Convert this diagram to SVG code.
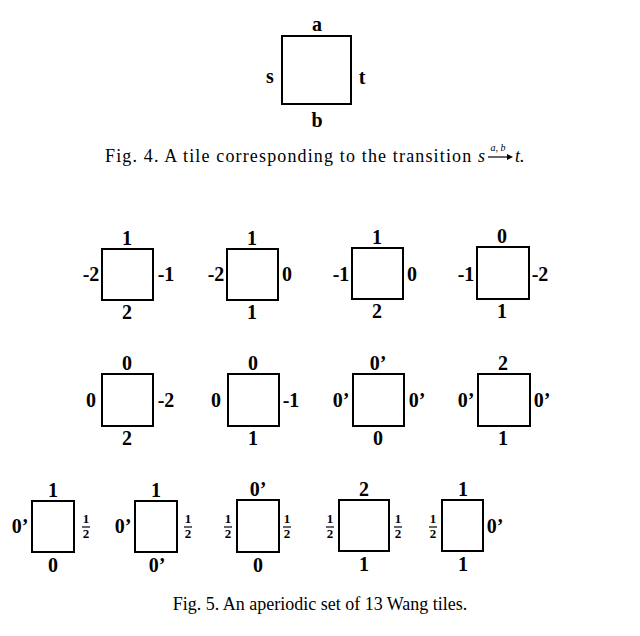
<svg xmlns="http://www.w3.org/2000/svg" width="640" height="636" viewBox="0 0 640 636">
<style>
rect{fill:none;stroke:#000;stroke-width:2}
text{font-family:"Liberation Serif",serif;font-size:20px;fill:#000;text-anchor:middle}
.b{font-weight:bold;font-size:20px}
.f{font-size:13px;font-weight:bold}
.c{font-size:18px;text-anchor:start}
line{stroke:#000;stroke-width:1.2}
</style>
<rect fill="#fff" width="640" height="636" style="stroke:none;fill:#fff"/>
<g id="fig4tile">
<rect x="282" y="36" width="69" height="68"/>
<text class="b" x="317" y="31">a</text>
<text class="b" x="270" y="83">s</text>
<text class="b" x="362" y="84">t</text>
<text class="b" x="317" y="127">b</text>
</g>
<text class="c" x="105" y="162" textLength="380" lengthAdjust="spacing">Fig. 4.  A tile corresponding to the transition <tspan font-style="italic">s</tspan></text>
<g id="arrow"><line x1="488" y1="157" x2="508" y2="157"/><path d="M507,154 L513,157 L507,160 Z"/><text x="498" y="151" style="font-size:10px;font-style:italic">a, b</text><text class="c" x="515" y="162" style="font-style:italic">t.</text></g>
<g id="r1t1"><rect x="102" y="249" width="51" height="51"/><text class="b" x="127" y="245">1</text><text class="b" x="91" y="281">-2</text><text class="b" x="166" y="281">-1</text><text class="b" x="127" y="319">2</text></g>
<g id="r1t2"><rect x="227" y="249" width="51" height="51"/><text class="b" x="252" y="245">1</text><text class="b" x="216" y="281">-2</text><text class="b" x="287" y="281">0</text><text class="b" x="252" y="319">1</text></g>
<g id="r1t3"><rect x="352" y="248" width="51" height="51"/><text class="b" x="377" y="244">1</text><text class="b" x="341" y="281">-1</text><text class="b" x="412" y="281">0</text><text class="b" x="377" y="318">2</text></g>
<g id="r1t4"><rect x="477" y="247" width="52" height="52"/><text class="b" x="502" y="243">0</text><text class="b" x="466" y="281">-1</text><text class="b" x="540" y="281">-2</text><text class="b" x="502" y="318">1</text></g>
<g id="r2t1"><rect x="102" y="374" width="51" height="52"/><text class="b" x="127" y="370">0</text><text class="b" x="91" y="407">0</text><text class="b" x="166" y="407">-2</text><text class="b" x="127" y="445">2</text></g>
<g id="r2t2"><rect x="228" y="374" width="51" height="52"/><text class="b" x="253" y="370">0</text><text class="b" x="216" y="407">0</text><text class="b" x="291" y="407">-1</text><text class="b" x="253" y="445">1</text></g>
<g id="r2t3"><rect x="353" y="374" width="51" height="52"/><text class="b" x="378" y="370">0’</text><text class="b" x="341" y="407">0’</text><text class="b" x="417" y="407">0’</text><text class="b" x="378" y="445">0</text></g>
<g id="r2t4"><rect x="478" y="374" width="52" height="52"/><text class="b" x="503" y="370">2</text><text class="b" x="466" y="407">0’</text><text class="b" x="542" y="407">0’</text><text class="b" x="503" y="445">1</text></g>
<g id="r3t1"><rect x="32" y="501" width="42" height="51"/><text class="b" x="53" y="497">1</text><text class="b" x="20" y="533">0’</text><text class="f" x="86" y="523">1</text><line x1="82" y1="527" x2="90" y2="527"/><text class="f" x="86" y="538">2</text><text class="b" x="53" y="572">0</text></g>
<g id="r3t2"><rect x="135" y="501" width="42" height="51"/><text class="b" x="156" y="497">1</text><text class="b" x="123" y="533">0’</text><text class="f" x="188" y="523">1</text><line x1="184" y1="527" x2="192" y2="527"/><text class="f" x="188" y="538">2</text><text class="b" x="157" y="572">0’</text></g>
<g id="r3t3"><rect x="237" y="500" width="42" height="52"/><text class="b" x="258" y="496">0’</text><text class="f" x="228" y="523">1</text><line x1="224" y1="527" x2="232" y2="527"/><text class="f" x="228" y="538">2</text><text class="f" x="287" y="523">1</text><line x1="283" y1="527" x2="291" y2="527"/><text class="f" x="287" y="538">2</text><text class="b" x="258" y="572">0</text></g>
<g id="r3t4"><rect x="339" y="500" width="50" height="51"/><text class="b" x="364" y="496">2</text><text class="f" x="330" y="523">1</text><line x1="326" y1="527" x2="334" y2="527"/><text class="f" x="330" y="538">2</text><text class="f" x="398" y="523">1</text><line x1="394" y1="527" x2="402" y2="527"/><text class="f" x="398" y="538">2</text><text class="b" x="364" y="571">1</text></g>
<g id="r3t5"><rect x="442" y="500" width="41" height="51"/><text class="b" x="463" y="496">1</text><text class="f" x="433" y="523">1</text><line x1="429" y1="527" x2="437" y2="527"/><text class="f" x="433" y="538">2</text><text class="b" x="495" y="533">0’</text><text class="b" x="463" y="571">1</text></g>
<text class="c" x="320" y="610" style="text-anchor:middle">Fig. 5.  An aperiodic set of 13 Wang tiles.</text>
</svg>
